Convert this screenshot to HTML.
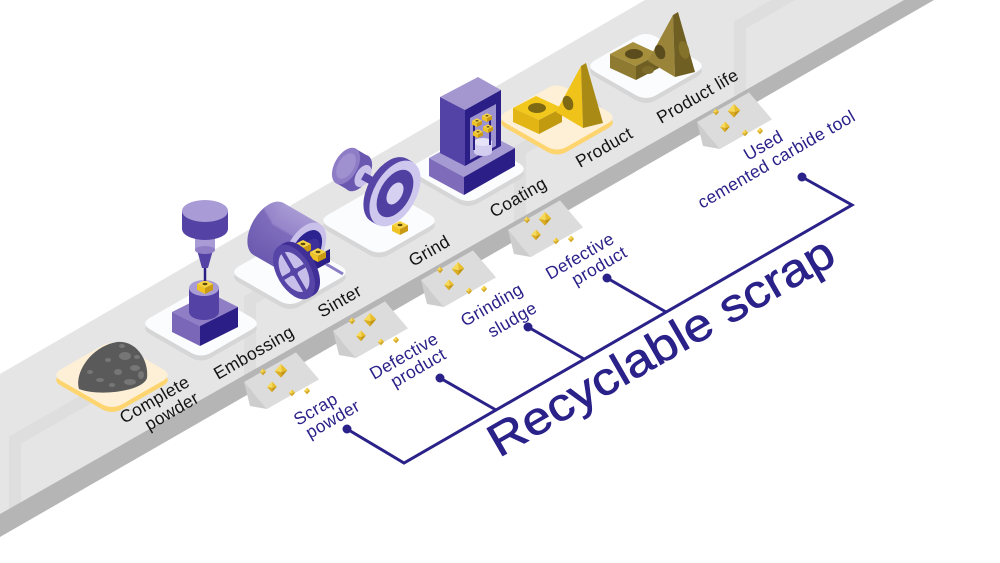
<!DOCTYPE html>
<html><head><meta charset="utf-8"><style>
html,body{margin:0;padding:0;background:#fff;}
svg{display:block;}
</style></head><body>
<svg width="1000" height="563" viewBox="0 0 1000 563" xmlns="http://www.w3.org/2000/svg" font-family="Liberation Sans, sans-serif">
<defs>
<path id="tl" d="M-50.6,-5.97 L-10.4,-29.03 Q0,-35 10.4,-29.03 L50.6,-5.97 Q61,0 50.6,5.97 L10.4,29.03 Q0,35 -10.4,29.03 L-50.6,5.97 Q-61,0 -50.6,-5.97 Z"/>
<g id="cr"><polygon points="0,-1 -0.9,0 0.1,0.15" fill="#f8da5a"/><polygon points="0,-1 0.9,-0.1 0.1,0.15" fill="#e9be2d"/><polygon points="-0.9,0 0.1,0.15 0,0.95" fill="#dbad20"/><polygon points="0.9,-0.1 0.1,0.15 0,0.95" fill="#c49610"/></g>
<g id="cube"><polygon points="-1,-0.25 0,-0.75 1,-0.25 0,0.25" fill="#f7d443"/><polygon points="-1,-0.25 0,0.25 0,1 -1,0.5" fill="#efc324"/><polygon points="0,0.25 1,-0.25 1,0.5 0,1" fill="#c99a12"/><ellipse cx="0" cy="-0.25" rx="0.3" ry="0.15" fill="#5e4a0c"/></g>
<g id="chute"><polygon points="0,0 52,-29.6 75,-2.6 23,27" fill="#dcdcdc"/><polygon points="0,0 23,27 6,24" fill="#cdcdcd"/>
<use href="#cr" transform="translate(37,-11) scale(7)"/><use href="#cr" transform="translate(28,5) scale(5.5)"/><use href="#cr" transform="translate(19,-10) scale(3.5)"/><use href="#cr" transform="translate(48,11) scale(3.5)"/><use href="#cr" transform="translate(63,9) scale(3.5)"/></g>
<linearGradient id="drum" gradientUnits="userSpaceOnUse" x1="283.6" y1="203" x2="253.6" y2="255"><stop offset="0" stop-color="#a89ad4"/><stop offset="0.38" stop-color="#9585ca"/><stop offset="0.42" stop-color="#7e6cbb"/><stop offset="1" stop-color="#6b59b0"/></linearGradient>
<clipPath id="beltclip"><polygon points="0,374 645,0 904,0 0,514"/></clipPath>
</defs>

<!-- belt -->
<polygon points="0,374 645,0 904,0 0,514" fill="#e5e5e5"/>
<g clip-path="url(#beltclip)" stroke="#dedede" stroke-width="12" fill="none">
<polyline points="15,560 15,440 90,397"/>
<polyline points="250,420 250,300 330,254"/>
<polyline points="520,260 520,150 600,104"/>
<polyline points="740,120 740,25 820,-21"/>
</g>
<polygon points="0,514 904,0 934,0 0,537" fill="#b5b5b5"/>

<!-- chutes -->
<use href="#chute" transform="translate(244,382)"/>
<use href="#chute" transform="translate(333,331)"/>
<use href="#chute" transform="translate(421,280)"/>
<use href="#chute" transform="translate(508,230)"/>
<use href="#chute" transform="translate(697,122)"/>

<!-- tiles -->
<use href="#tl" transform="translate(646,71)" fill="#d6d6d6"/><use href="#tl" transform="translate(646,66)" fill="#fbfcfe"/>
<use href="#tl" transform="translate(557,122.5)" fill="#fdd46e"/><use href="#tl" transform="translate(557,117.5)" fill="#fdf0d6"/>
<use href="#tl" transform="translate(468,174)" fill="#d6d6d6"/><use href="#tl" transform="translate(468,169)" fill="#fbfcfe"/>
<use href="#tl" transform="translate(379,225.5)" fill="#d6d6d6"/><use href="#tl" transform="translate(379,220.5)" fill="#fbfcfe"/>
<use href="#tl" transform="translate(290,277)" fill="#d6d6d6"/><use href="#tl" transform="translate(290,272)" fill="#fbfcfe"/>
<use href="#tl" transform="translate(201,328.5)" fill="#d6d6d6"/><use href="#tl" transform="translate(201,323.5)" fill="#fbfcfe"/>
<use href="#tl" transform="translate(112,380)" fill="#fdd46e"/><use href="#tl" transform="translate(112,375)" fill="#fdf0d6"/>

<!-- product life (olive) -->
<polygon points="610,54 633,42 659,54 636,66" fill="#a58f3c"/>
<polygon points="610,54 636,66 636,80 610,68" fill="#8e7a30"/>
<polygon points="636,66 659,54 659,68 636,80" fill="#6f5f22"/>
<ellipse cx="634" cy="54" rx="9" ry="5" fill="#5a4c1c"/>
<ellipse cx="648" cy="70" rx="6" ry="4" fill="#7d6b2a"/>
<polygon points="673,15 648,61 675,77" fill="#9a843a"/>
<polygon points="673,15 678,12 695,72 675,77" fill="#6f5f22"/>
<ellipse cx="660" cy="52" rx="5" ry="7.5" fill="#5a4c1c" transform="rotate(-20 660 52)"/>
<ellipse cx="684" cy="50" rx="5" ry="9" fill="#85722a" transform="rotate(-15 684 50)"/>

<!-- product (yellow) -->
<polygon points="513,108 536,96 562,108 539,120" fill="#f2c81c"/>
<polygon points="513,108 539,120 539,134 513,122" fill="#e3b514"/>
<polygon points="539,120 562,108 562,122 539,134" fill="#c29a0f"/>
<ellipse cx="537" cy="108" rx="9" ry="5" fill="#7f6912"/>
<polygon points="581,66 556,112 583,128" fill="#f0c31a"/>
<polygon points="581,66 586,63 603,123 583,128" fill="#a98a15"/>
<ellipse cx="568" cy="103" rx="5" ry="7.5" fill="#7f6912" transform="rotate(-20 568 103)"/>

<!-- coating machine -->
<polygon points="429,158 480,130 515,148 464,177" fill="#a69ad3"/>
<polygon points="429,158 464,177 464,195 429,176" fill="#7e6cba"/>
<polygon points="464,177 515,148 515,166 464,195" fill="#2b1f87"/>
<polygon points="440,97 478,77 501,90 465,110" fill="#a497d0"/>
<polygon points="440,97 465,110 465,166 440,153" fill="#5443a6"/>
<polygon points="465,110 501,90 501,146 465,166" fill="#2b1f87"/>
<polygon points="470,118 496,104 496,146 470,160" fill="#9d92d0"/>
<rect x="474" y="142" width="18" height="10" fill="#d3cdef"/>
<ellipse cx="483" cy="152" rx="9" ry="4" fill="#d3cdef"/>
<ellipse cx="483" cy="142" rx="9" ry="4" fill="#e6e2f7"/>
<line x1="474" y1="125" x2="474" y2="150" stroke="#2b1f87" stroke-width="2"/>
<line x1="490" y1="116" x2="490" y2="145" stroke="#2b1f87" stroke-width="2"/>
<use href="#cube" transform="translate(477,122) scale(5)"/>
<use href="#cube" transform="translate(487,117) scale(5)"/>
<use href="#cube" transform="translate(478,133) scale(5)"/>
<use href="#cube" transform="translate(488,128) scale(5)"/>

<!-- grinder -->
<polygon points="336,183 356,149 368,156 348,190" fill="#6a58b0"/>
<ellipse cx="358" cy="173" rx="11.5" ry="20" fill="#6a58b0" transform="rotate(30 358 173)"/>
<ellipse cx="346" cy="166" rx="11.5" ry="20" fill="#8e7dc6" transform="rotate(30 346 166)"/>
<ellipse cx="346" cy="166" rx="8" ry="14" fill="#9f90d0" transform="rotate(30 346 166)"/>
<ellipse cx="363" cy="176" rx="7" ry="12" fill="#c9c1ea" transform="rotate(30 363 176)"/>
<line x1="363" y1="176" x2="388" y2="190" stroke="#5645a6" stroke-width="8"/>
<ellipse cx="389" cy="190" rx="21" ry="36" fill="#5645a6" transform="rotate(30 389 190)"/>
<polygon points="371,221.2 407,158.8 413,162.3 377,224.7" fill="#5645a6"/>
<ellipse cx="395" cy="193.5" rx="21" ry="36" fill="#cfc8ee" transform="rotate(30 395 193.5)"/>
<ellipse cx="395" cy="193.5" rx="15" ry="26" fill="#5040a2" transform="rotate(30 395 193.5)"/>
<ellipse cx="395" cy="193.5" rx="7" ry="12" fill="#d7d1f1" transform="rotate(30 395 193.5)"/>
<use href="#cube" transform="translate(400,227) scale(8)"/>

<!-- sinter furnace -->
<ellipse cx="268.6" cy="229" rx="17.3" ry="30" fill="url(#drum)" transform="rotate(30 268.6 229)"/>
<polygon points="253.6,255 290,276 320,224 283.6,203" fill="url(#drum)"/>
<ellipse cx="305" cy="250" rx="17.3" ry="30" fill="#c9c1ea" transform="rotate(30 305 250)"/>
<ellipse cx="306" cy="251" rx="13" ry="23" fill="#2c2290" transform="rotate(30 306 251)"/>
<ellipse cx="309" cy="253" rx="8" ry="16" fill="#3e309a" transform="rotate(30 309 253)"/>
<polygon points="313,258 330,249 330,262 313,271" fill="#2b1f87"/>
<line x1="326" y1="264" x2="343" y2="274" stroke="#8b7cc6" stroke-width="3"/>
<use href="#cube" transform="translate(303,246) scale(8)"/>
<use href="#cube" transform="translate(318,254) scale(8)"/>
<ellipse cx="299" cy="269" rx="17" ry="30" fill="#3f2f96" transform="rotate(-30 299 269)"/>
<polygon points="284,243 314,295 309,298 279,246" fill="#3f2f96"/>
<ellipse cx="294" cy="272" rx="17" ry="30" fill="#5645a6" transform="rotate(-30 294 272)"/>
<ellipse cx="294" cy="272" rx="12.5" ry="22" fill="#c7bfe9" transform="rotate(-30 294 272)"/>
<line x1="283" y1="253" x2="305" y2="291" stroke="#5645a6" stroke-width="4"/>
<line x1="283.2" y1="278.3" x2="304.8" y2="265.7" stroke="#5645a6" stroke-width="4"/>
<circle cx="294" cy="272" r="4" fill="#5645a6"/>

<!-- embossing press -->
<polygon points="172,312 210,293 238,307 200,326" fill="#8f7ec6"/>
<polygon points="172,312 200,326 200,346 172,332" fill="#7a67b8"/>
<polygon points="200,326 238,307 238,327 200,346" fill="#2b1f87"/>
<rect x="189" y="288" width="30" height="24" fill="#5443a5"/>
<ellipse cx="204" cy="312" rx="15" ry="8" fill="#5443a5"/>
<ellipse cx="204" cy="288" rx="15" ry="8" fill="#a99cd6"/>
<use href="#cube" transform="translate(205,286) scale(8)"/>
<line x1="205" y1="266" x2="205" y2="281" stroke="#2b1f87" stroke-width="2.5"/>
<polygon points="197,250 213,250 208,268 202,268" fill="#5443a5"/>
<rect x="195" y="238" width="20" height="12" fill="#a99cd6"/>
<ellipse cx="205" cy="250" rx="10" ry="4" fill="#8f7ec6"/>
<rect x="182" y="211" width="46" height="18" fill="#5443a5"/>
<ellipse cx="205" cy="229" rx="23" ry="11" fill="#5443a5"/>
<ellipse cx="205" cy="211" rx="23" ry="11" fill="#a99cd6"/>

<!-- powder heap -->
<path d="M79,389 C74,372 92,346 117,342 C136,340 149,360 147,378 C143,391 100,397 79,389 Z" fill="#5a5a5a"/>
<g fill="#767676">
<ellipse cx="125" cy="356" rx="6" ry="4"/><ellipse cx="135" cy="368" rx="5" ry="3"/><ellipse cx="118" cy="372" rx="4" ry="3"/>
<ellipse cx="130" cy="382" rx="6" ry="3"/><ellipse cx="108" cy="360" rx="3" ry="2"/><ellipse cx="141" cy="375" rx="3" ry="4"/>
<ellipse cx="100" cy="380" rx="4" ry="2"/><ellipse cx="112" cy="385" rx="3" ry="2"/><ellipse cx="122" cy="346" rx="3" ry="2"/>
<ellipse cx="137" cy="357" rx="3" ry="2"/><ellipse cx="90" cy="372" rx="3" ry="2"/>
</g>

<!-- black labels -->
<g fill="#141414" font-size="17.5" letter-spacing="0.3">
<text transform="translate(124,424) rotate(-30)">Complete</text>
<text transform="translate(149,431) rotate(-30)">powder</text>
<text transform="translate(218,380) rotate(-30)">Embossing</text>
<text transform="translate(322,318) rotate(-30)">Sinter</text>
<text transform="translate(413,267) rotate(-30)">Grind</text>
<text transform="translate(494,218) rotate(-30)">Coating</text>
<text transform="translate(580,168) rotate(-30)">Product</text>
<text transform="translate(661,124) rotate(-30)">Product life</text>
</g>

<!-- blue labels -->
<g fill="#2a2189" font-size="17.5" letter-spacing="0.3">
<text transform="translate(298,426) rotate(-30)">Scrap</text>
<text transform="translate(310,439) rotate(-30)">powder</text>
<text transform="translate(374,380) rotate(-30)">Defective</text>
<text transform="translate(395,388) rotate(-30)">product</text>
<text transform="translate(465,327) rotate(-30)">Grinding</text>
<text transform="translate(492,338) rotate(-30)">sludge</text>
<text transform="translate(550,280) rotate(-30)">Defective</text>
<text transform="translate(576,286) rotate(-30)">product</text>
<text transform="translate(748,161) rotate(-30)">Used</text>
<text transform="translate(702,209) rotate(-30)">cemented carbide tool</text>
</g>

<!-- connectors -->
<g stroke="#2a2189" stroke-width="3" fill="none" stroke-linejoin="miter">
<polyline points="347,429 404,463 852,205 802,177"/>
<line x1="440" y1="378" x2="496" y2="410"/>
<line x1="528" y1="327" x2="584" y2="359"/>
<line x1="607" y1="278" x2="666" y2="312"/>
</g>
<g fill="#2a2189">
<circle cx="347" cy="429" r="4.5"/><circle cx="440" cy="378" r="4.5"/><circle cx="528" cy="327" r="4.5"/><circle cx="607" cy="278" r="4.5"/><circle cx="802" cy="177" r="4.5"/>
</g>

<text transform="translate(499,458) rotate(-30)" font-size="46" fill="#2a2189" stroke="#2a2189" stroke-width="0.7" textLength="392" lengthAdjust="spacingAndGlyphs">Recyclable scrap</text>
</svg>
</body></html>
